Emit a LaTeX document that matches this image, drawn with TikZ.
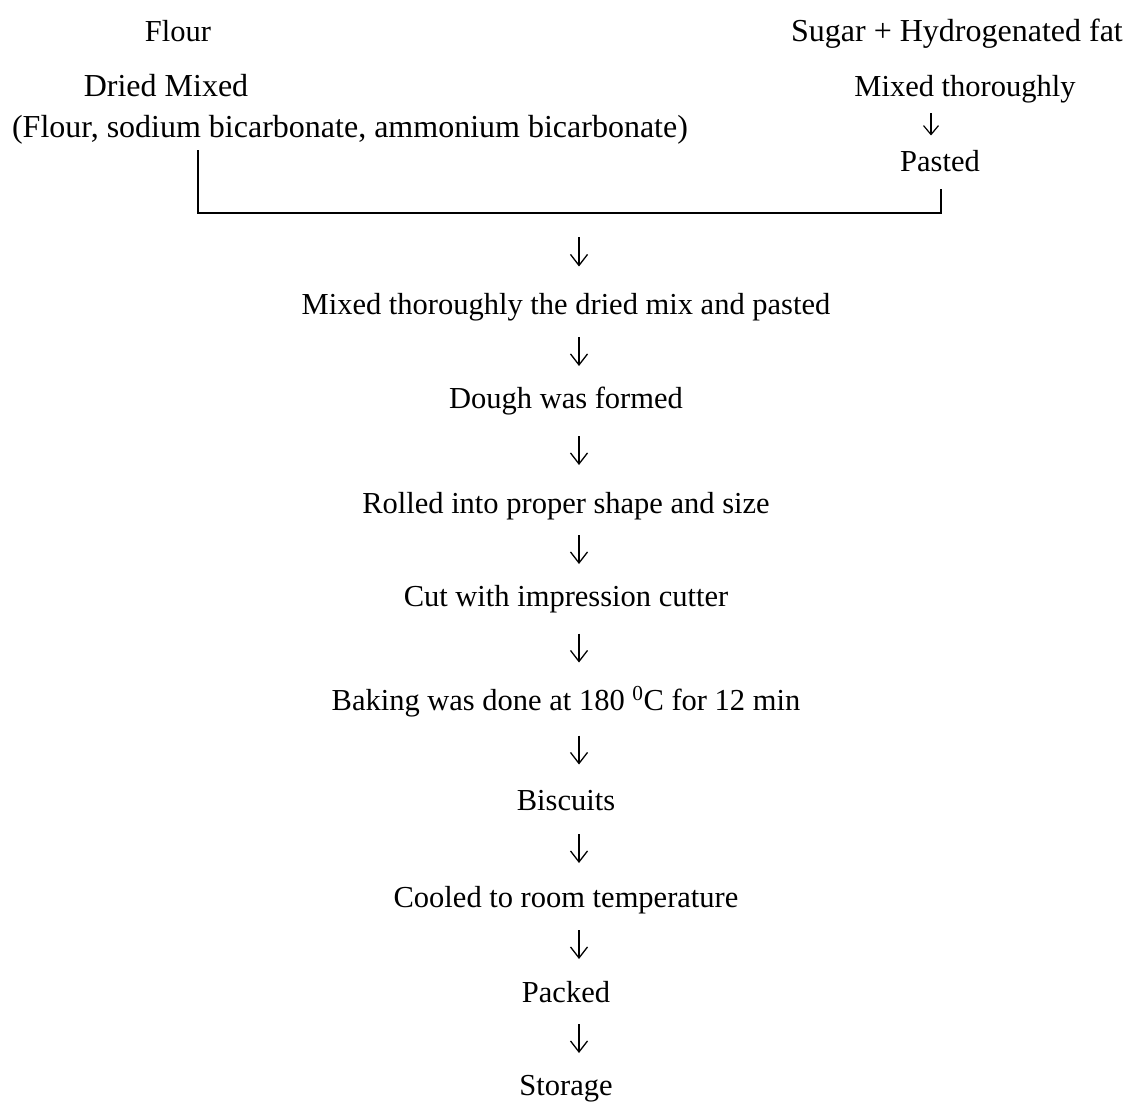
\documentclass[tikz,border=0pt]{standalone}
\usepackage{fontspec}
\setmainfont{Liberation Serif}
\usetikzlibrary{calc,arrows.meta}
\begin{document}
\begin{tikzpicture}[x=1pt,y=-1pt,
  lbl/.style={inner sep=0pt,font=\fontsize{30.5}{36}\selectfont,text height=22pt,text depth=2pt},
  biglbl/.style={lbl,font=\fontsize{32}{38}\selectfont},
  arrdx/.store in=\arrdx, arrdy/.store in=\arrdy, arrlen/.store in=\arrlen,
  arrdx=13, arrdy=0, arrlen=14.5,
  arr/.style={line width=1.3pt,-{Straight Barb[length=11pt,width=17pt]},
    to path={($(\tikztostart)!.5!(\tikztotarget)+(\arrdx,\arrdy-\arrlen)$) -- ($(\tikztostart)!.5!(\tikztotarget)+(\arrdx,\arrdy+\arrlen)$)}},
  smallarr/.style={arr,arrdx=-21.5,arrlen=11,-{Straight Barb[length=9pt,width=15pt]},line width=1.2pt},
  brk/.style={line width=2pt}]
\useasboundingbox (0,0) rectangle (1128,1110);
\node[lbl] (flour) at (178,32) {Flour};
\node[biglbl] (sugar) at (957,32) {Sugar + Hydrogenated fat};
\node[biglbl] (dried) at (166,87) {Dried Mixed};
\node[biglbl] (paren) at (350,128) {(Flour, sodium bicarbonate, ammonium bicarbonate)};
\node[lbl] (mixt) at (965,87) {Mixed thoroughly};
\node[lbl] (pasted) at (940,162) {Pasted};
\node[lbl] (mix) at (566,305) {Mixed thoroughly the dried mix and pasted};
\node[lbl] (dough) at (566,398) {Dough was formed};
\node[lbl] (rolled) at (566,503) {Rolled into proper shape and size};
\node[lbl] (cut) at (566,596) {Cut with impression cutter};
\node[lbl] (bake) at (566,700) {Baking was done at 180 \textsuperscript{0}C for 12 min};
\node[lbl] (bisc) at (566,800) {Biscuits};
\node[lbl] (cool) at (566,897) {Cooled to room temperature};
\node[lbl] (packed) at (566,992) {Packed};
\node[lbl] (store) at (566,1085) {Storage};
\coordinate (join) at (566,213);
\draw[brk] ($(paren.south)+(-152,10)$) |- ($(pasted.south)+(1,39)$) -- ($(pasted.south)+(1,15)$);
\draw[smallarr] (mixt) to (pasted);
\draw[arr,arrdy=-7] (join) to (mix);
\draw[arr] (mix) to (dough);
\draw[arr] (dough) to (rolled);
\draw[arr] (rolled) to (cut);
\draw[arr] (cut) to (bake);
\draw[arr] (bake) to (bisc);
\draw[arr] (bisc) to (cool);
\draw[arr] (cool) to (packed);
\draw[arr] (packed) to (store);
\end{tikzpicture}
\end{document}
